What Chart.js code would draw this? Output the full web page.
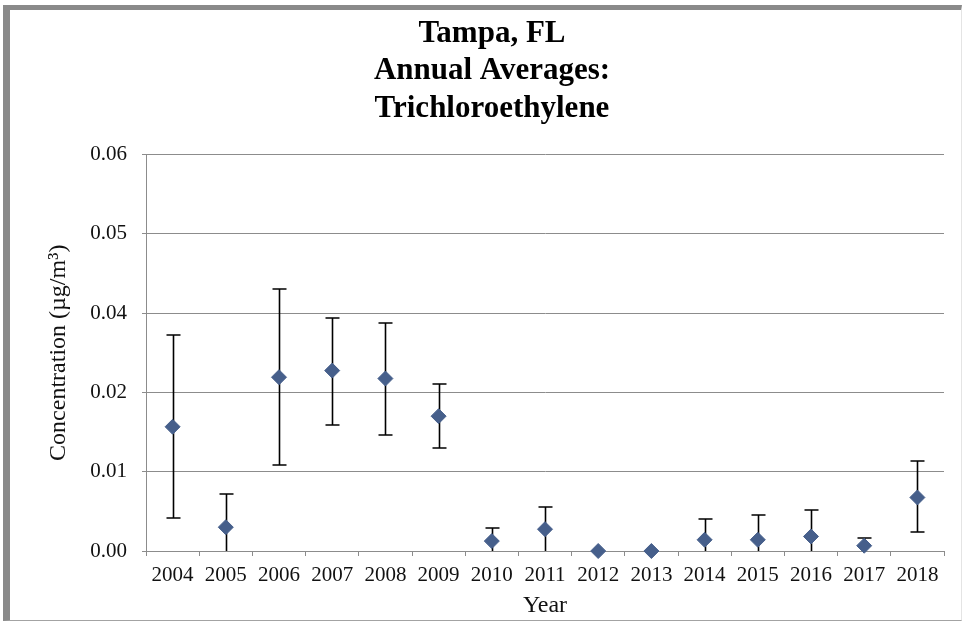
<!DOCTYPE html>
<html>
<head>
<meta charset="utf-8">
<script src="https://cdn.jsdelivr.net/npm/chart.js@4/dist/chart.umd.min.js"></script>
<style>
  html, body { margin: 0; padding: 0; background: #fff; }
  #wrap { position: relative; width: 964px; height: 624px; overflow: hidden; }
  #frame {
    position: absolute; left: 3px; top: 5px; width: 951px; height: 610px;
    border-left: 7px solid #8a8a8a; border-top: 5px solid #8a8a8a;
    border-bottom: 1px solid #a3a3a3; border-right: 1px solid #e4e4e4;
  }
  #chart { position: absolute; left: 0; top: 0; }
</style>
</head>
<body>
<div id="wrap">
  <div id="frame"></div>
  <canvas id="chart" width="964" height="624"></canvas>
</div>
<script>
// Chart data
const years = ['2004', '2005', '2006', '2007', '2008', '2009', '2010', '2011',
               '2012', '2013', '2014', '2015', '2016', '2017', '2018'];
const annualMeans = [0.0188, 0.0036, 0.0263, 0.0273, 0.0261, 0.0204, 0.0015, 0.0033,
                     0.0000, 0.0000, 0.0017, 0.0017, 0.0022, 0.0008, 0.0081];
const errorLow  = [0.0050, 0.0000, 0.0130, 0.0191, 0.0175, 0.0156, 0.0000, 0.0000,
                   0.0000, 0.0000, 0.0000, 0.0000, 0.0000, 0.0000, 0.0029];
const errorHigh = [0.0327, 0.0087, 0.0396, 0.0353, 0.0345, 0.0253, 0.0035, 0.0066,
                   0.0000, 0.0000, 0.0049, 0.0054, 0.0062, 0.0019, 0.0136];

// Excel axis used a major unit of 0.012, shown with two decimals
const yTickValues = [0, 0.012, 0.024, 0.036, 0.048, 0.06];
const yTickLabels = ['0.00', '0.01', '0.02', '0.04', '0.05', '0.06'];

const serif = '"Liberation Serif", "Times New Roman", serif';
const gridColor = '#8c8c8c';
const markerColor = '#465f8b';

/**
 * Draws vertical error bars with caps behind the markers
 */
const errorBarPlugin = {
  id: 'errorBars',
  beforeDatasetsDraw(chart) {
    const { ctx, scales: { x, y } } = chart;
    const capHalf = 7;
    ctx.save();
    ctx.strokeStyle = '#000';
    ctx.lineWidth = 1.6;
    years.forEach((year, i) => {
      if (errorHigh[i] <= errorLow[i]) return;
      const px = Math.round(x.getPixelForValue(i)) + 0.5;
      const top = Math.round(y.getPixelForValue(errorHigh[i]));
      const bottom = Math.round(y.getPixelForValue(errorLow[i]));
      ctx.beginPath();
      ctx.moveTo(px, top);
      ctx.lineTo(px, bottom);
      ctx.moveTo(px - capHalf, top);
      ctx.lineTo(px + capHalf, top);
      // no cap where the bar was clipped at zero
      if (errorLow[i] > 0) {
        ctx.moveTo(px - capHalf, bottom);
        ctx.lineTo(px + capHalf, bottom);
      }
      ctx.stroke();
    });
    ctx.restore();
  }
};

new Chart(document.getElementById('chart').getContext('2d'), {
  type: 'line',
  data: {
    labels: years,
    datasets: [{
      label: 'Annual Average',
      data: annualMeans,
      showLine: false,
      pointStyle: 'rectRot',
      pointRadius: 7.5,
      pointHoverRadius: 7.5,
      pointBackgroundColor: markerColor,
      pointBorderColor: markerColor,
      pointBorderWidth: 1,
      clip: false
    }]
  },
  options: {
    responsive: false,
    animation: false,
    // wider left padding so the title centres on the plot like Excel does
    layout: { padding: { left: 40, right: 20, top: 0, bottom: 3 } },
    plugins: {
      legend: { display: false },
      tooltip: { enabled: false },
      title: {
        display: true,
        text: ['Tampa, FL', 'Annual Averages:', 'Trichloroethylene'],
        color: '#000',
        font: { family: serif, size: 31, weight: 'bold', lineHeight: 1.21 },
        padding: { top: 15, bottom: 27 }
      }
    },
    scales: {
      x: {
        offset: true,
        grid: {
          display: true,
          offset: true,
          drawOnChartArea: false,
          drawTicks: true,
          tickLength: 5,
          color: gridColor
        },
        border: { color: gridColor },
        ticks: {
          color: '#111',
          font: { family: serif, size: 21 },
          padding: 7,
          maxRotation: 0,
          autoSkip: false
        },
        title: {
          display: true,
          text: 'Year',
          color: '#111',
          font: { family: serif, size: 24 },
          padding: { top: 2, bottom: 1 }
        },
        afterFit: (scale) => { scale.height = 70; }
      },
      y: {
        min: 0,
        max: 0.06,
        afterBuildTicks: (scale) => {
          scale.ticks = yTickValues.map(v => ({ value: v }));
        },
        grid: {
          color: gridColor,
          drawTicks: true,
          tickLength: 4
        },
        border: { color: gridColor },
        ticks: {
          color: '#111',
          font: { family: serif, size: 21 },
          padding: 15,
          callback: (value, index) => yTickLabels[index]
        },
        title: {
          display: true,
          text: 'Concentration (µg/m³)',
          color: '#111',
          font: { family: serif, size: 24 },
          padding: { top: 4, bottom: 18 }
        },
        afterFit: (scale) => { scale.width = 106; }
      }
    }
  },
  plugins: [errorBarPlugin]
});
</script>
</body>
</html>
